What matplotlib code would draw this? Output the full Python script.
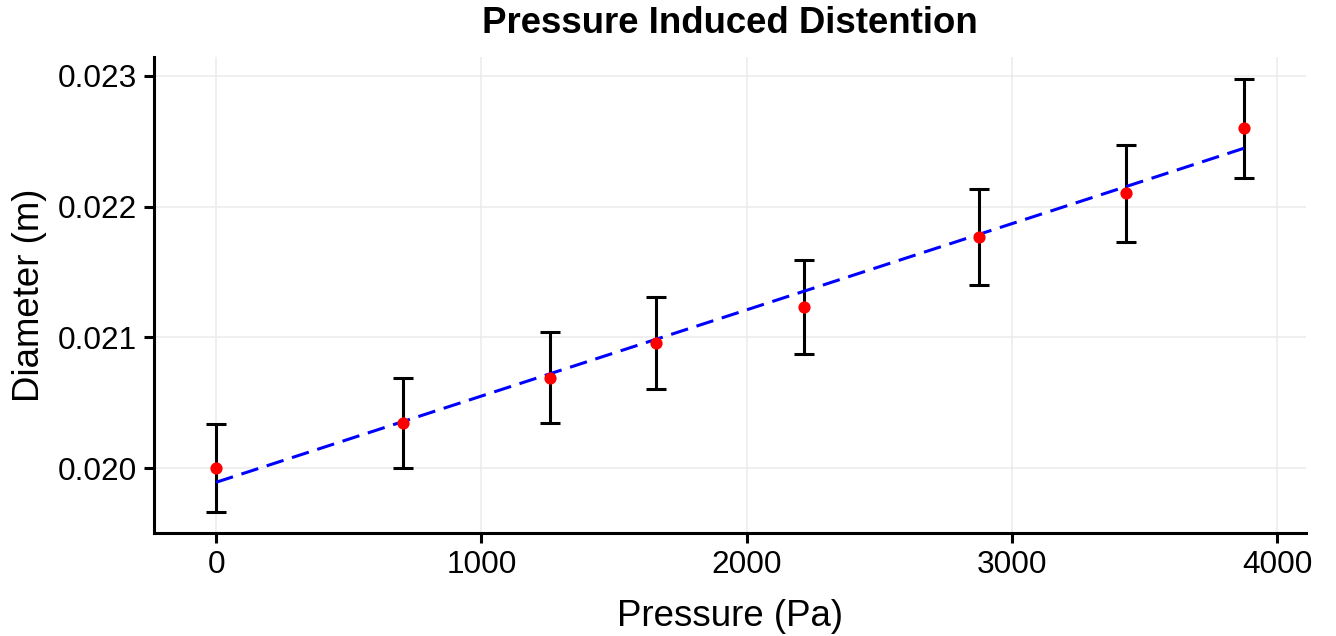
import numpy as np
import matplotlib
matplotlib.use("Agg")
import matplotlib.pyplot as plt

plt.rcParams['font.family'] = ['Liberation Sans', 'DejaVu Sans']

# ----------------------------
# Data
# ----------------------------
pressure = [0, 706, 1257, 1657, 2217, 2875, 3432, 3875]
diameter = [0.02000, 0.020344, 0.020689, 0.020957, 0.021232, 0.021768, 0.022102, 0.02260]
diameter_err = [0.000337, 0.000342, 0.000348, 0.000352, 0.000357, 0.000366, 0.000370, 0.000380]

x_ticks = [0, 1000, 2000, 3000, 4000]
y_ticks = [0.020, 0.021, 0.022, 0.023]

# linear fit
slope, intercept = np.polyfit(pressure, diameter, 1)
fit_x = np.array([pressure[0], pressure[-1]])
fit_y = slope * fit_x + intercept

fig = plt.figure(figsize=(13.36, 6.36), dpi=100)
ax = fig.add_axes([0.1153, 0.162, 0.8622, 0.7484])

ax.errorbar(
    pressure, diameter, yerr=diameter_err,
    fmt="none", ecolor="black", elinewidth=2.2,
    capsize=7.5, capthick=2.2, zorder=2
)

ax.plot(fit_x, fit_y, color="blue", linestyle="--", dashes=(5.8, 2.9),
        linewidth=2.2, zorder=3)

ax.plot(pressure, diameter, "o", color="red", markersize=8.8,
        markeredgewidth=0, zorder=4)

ax.set_xlim(-234, 4109)
ax.set_ylim(0.019503, 0.023145)
ax.set_xticks(x_ticks)
ax.set_yticks(y_ticks)
ax.set_yticklabels([f"{v:.3f}" for v in y_ticks])

ax.grid(True, color="#ebebeb", linewidth=1.1)
ax.set_axisbelow(True)

for side in ["top", "right"]:
    ax.spines[side].set_visible(False)
for side in ["left", "bottom"]:
    ax.spines[side].set_linewidth(2.2)

ax.tick_params(axis="both", labelsize=22.7, width=2.2, length=7, pad=5)

ax.set_xlabel("Pressure (Pa)", fontsize=26.4, labelpad=14)
ax.set_ylabel("Diameter (m)", fontsize=26.4, labelpad=8)
ax.set_title("Pressure Induced Distention", fontsize=26.4,
             fontweight="bold", pad=17)

fig.savefig("out.png", dpi=100)
